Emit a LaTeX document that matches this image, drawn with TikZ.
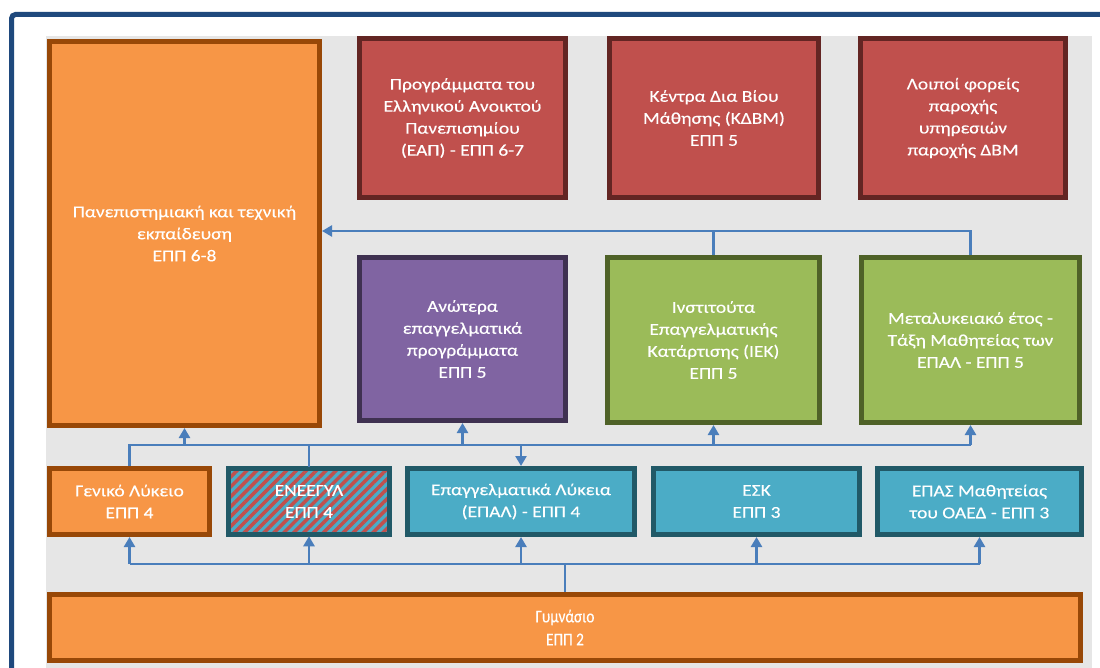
\documentclass[tikz,border=0pt]{standalone}
\usepackage{fontspec}
\setmainfont{Carlito}
\newfontfamily\boxfont[FakeStretch=1.18,FakeBold=0.3]{Carlito}
\newfontfamily\narrowfont[FakeStretch=0.85,FakeBold=0.3]{Carlito}
\usetikzlibrary{arrows.meta,patterns.meta}
\definecolor{framebl}{HTML}{1F497D}
\definecolor{bggrey}{HTML}{E6E6E6}
\definecolor{orfill}{HTML}{F79646}
\definecolor{ordraw}{HTML}{984807}
\definecolor{rdfill}{HTML}{C0504D}
\definecolor{rddraw}{HTML}{632523}
\definecolor{pufill}{HTML}{8064A2}
\definecolor{pudraw}{HTML}{3F3151}
\definecolor{grfill}{HTML}{9BBB59}
\definecolor{grdraw}{HTML}{4F6228}
\definecolor{blfill}{HTML}{4BACC6}
\definecolor{bldraw}{HTML}{215967}
\definecolor{conncol}{HTML}{4A7EBB}
\tikzset{
  box/.style={rectangle, line width=5pt, text=white, align=center, inner sep=2pt,
    font=\boxfont\fontsize{16.5}{22}\selectfont},
  orbox/.style={box, fill=orfill, draw=ordraw},
  rdbox/.style={box, fill=rdfill, draw=rddraw},
  pubox/.style={box, fill=pufill, draw=pudraw},
  grbox/.style={box, fill=grfill, draw=grdraw},
  blbox/.style={box, fill=blfill, draw=bldraw},
  hatchbox/.style={box, draw=bldraw, preaction={fill=blfill},
    pattern={Lines[angle=45,distance=7pt,line width=3.5pt]}, pattern color=rdfill},
  wire/.style={draw=conncol, line width=2.5pt},
  arr/.style={wire, -{Triangle[width=11pt,length=10pt]}},
}
\begin{document}
\begin{tikzpicture}[x=1pt,y=-1pt]
\useasboundingbox (0,0) rectangle (1100,668);
\clip (0,0) rectangle (1100,668);
\fill[white] (0,0) rectangle (1100,668);
\draw[framebl, line width=5pt, rounded corners=4pt] (1120,14.5) -- (11.5,14.5) -- (11.5,690);
\fill[bggrey] (46,36) rectangle (1092,668);

% top row
\node[orbox, minimum width=270pt, minimum height=384pt] (uni) at (184.5,233.5)
  {Πανεπιστημιακή και τεχνική\\εκπαίδευση\\ΕΠΠ 6-8};
\node[rdbox, minimum width=206pt, minimum height=159pt] (eap) at (462.5,118)
  {Προγράμματα του\\Ελληνικού Ανοικτού\\Πανεπισημίου\\(ΕΑΠ) - ΕΠΠ 6-7};
\node[rdbox, minimum width=209pt, minimum height=159pt] (kdvm) at (714,118)
  {Κέντρα Δια Βίου\\Μάθησης (ΚΔΒΜ)\\ΕΠΠ 5};
\node[rdbox, minimum width=205pt, minimum height=159pt] (loipoi) at (963,118)
  {Λοιποί φορείς\\παροχής\\υπηρεσιών\\παροχής ΔΒΜ};

% second row
\node[pubox, minimum width=206pt, minimum height=163pt] (anot) at (462.5,339)
  {Ανώτερα\\επαγγελματικά\\προγράμματα\\ΕΠΠ 5};
\node[grbox, minimum width=212pt, minimum height=165pt] (iek) at (713.5,340)
  {Ινστιτούτα\\Επαγγελματικής\\Κατάρτισης (ΙΕΚ)\\ΕΠΠ 5};
\node[grbox, minimum width=218pt, minimum height=165pt] (meta) at (970.5,340)
  {Μεταλυκειακό έτος -\\Τάξη Μαθητείας των\\ΕΠΑΛ - ΕΠΠ 5};

% third row
\node[orbox, minimum width=160pt, minimum height=66pt] (gel) at (129.5,501.5)
  {Γενικό Λύκειο\\ΕΠΠ 4};
\node[hatchbox, minimum width=161pt, minimum height=66pt] (eneegyl) at (309,501.5)
  {ΕΝΕΕΓΥΛ\\ΕΠΠ 4};
\node[blbox, minimum width=227pt, minimum height=66pt] (epal) at (521,501.5)
  {Επαγγελματικά Λύκεια\\(ΕΠΑΛ) - ΕΠΠ 4};
\node[blbox, minimum width=206pt, minimum height=66pt] (esk) at (756.5,501.5)
  {ΕΣΚ\\ΕΠΠ 3};
\node[blbox, minimum width=204pt, minimum height=66pt] (epas) at (979.5,501.5)
  {ΕΠΑΣ Μαθητείας\\του ΟΑΕΔ - ΕΠΠ 3};

% bottom
\node[orbox, minimum width=1031pt, minimum height=66pt,
  font=\narrowfont\fontsize{18}{23}\selectfont] (gym) at (565,627.5)
  {Γυμνάσιο\\ΕΠΠ 2};

% bus coordinates
\coordinate (busT) at (0,231);
\coordinate (busM) at (0,445);
\coordinate (busB) at (0,564);

% top bus
\draw[wire] (iek.north) -- (iek.north |- busT);
\draw[arr] (meta.north) |- (uni.east |- busT);

% middle bus
\draw[wire] (gel.north) |- (meta.south |- busM);
\draw[wire] (eneegyl.north) -- (eneegyl.north |- busM);
\draw[arr] (uni.south |- busM) -- (uni.south);
\draw[arr] (anot.south |- busM) -- (anot.south);
\draw[arr] (epal.north |- busM) -- (epal.north);
\draw[arr] (iek.south |- busM) -- (iek.south);
\draw[arr] (meta.south |- busM) -- (meta.south);

% bottom bus
\draw[wire] (gel.south |- busB) -- (epas.south |- busB);
\draw[wire] (gym.north) -- (gym.north |- busB);
\draw[arr] (gel.south |- busB) -- (gel.south);
\draw[arr] (eneegyl.south |- busB) -- (eneegyl.south);
\draw[arr] (epal.south |- busB) -- (epal.south);
\draw[arr] (esk.south |- busB) -- (esk.south);
\draw[arr] (epas.south |- busB) -- (epas.south);
\end{tikzpicture}
\end{document}
